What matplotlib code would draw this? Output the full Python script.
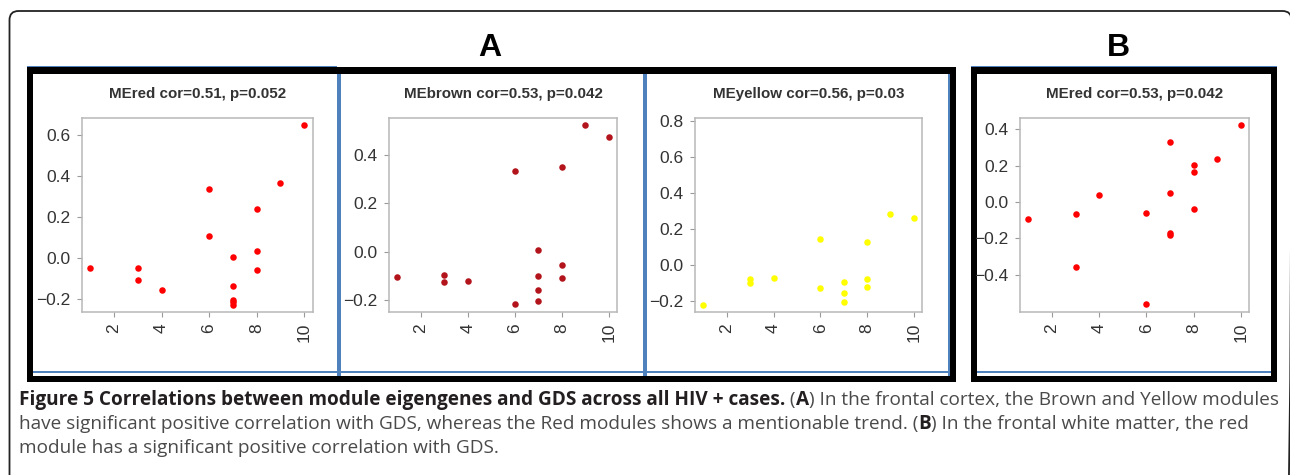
import matplotlib
matplotlib.use("Agg")
import matplotlib.pyplot as plt
from matplotlib.patches import Rectangle, FancyBboxPatch

W, H = 1290, 475

# GDS score (x) and module eigengene value (y) per panel
red_a_gds = [1, 3, 3, 4, 6, 6, 7, 7, 7, 7, 7, 8, 8, 8, 9, 10]
red_a_me = [-0.050, -0.047, -0.109, -0.154, 0.338, 0.107, 0.006, -0.136,
            -0.204, -0.216, -0.227, 0.240, 0.032, -0.060, 0.368, 0.649]

brown_gds = [1, 3, 3, 4, 6, 6, 7, 7, 7, 7, 8, 8, 8, 9, 10]
brown_me = [-0.107, -0.096, -0.124, -0.121, 0.335, -0.219, 0.007, -0.101,
            -0.157, -0.204, 0.349, -0.057, -0.108, 0.525, 0.475]

yellow_gds = [1, 3, 3, 4, 6, 6, 7, 7, 7, 8, 8, 8, 9, 10]
yellow_me = [-0.219, -0.076, -0.102, -0.070, 0.143, -0.130, -0.093, -0.157,
             -0.207, 0.130, -0.076, -0.119, 0.285, 0.259]

red_b_gds = [1, 3, 3, 4, 6, 6, 7, 7, 7, 7, 8, 8, 8, 9, 10]
red_b_me = [-0.094, -0.064, -0.360, 0.039, -0.059, -0.565, 0.329, 0.050,
            -0.171, -0.184, 0.202, 0.166, -0.040, 0.237, 0.425]

titles = ["MEred cor=0.51, p=0.052", "MEbrown cor=0.53, p=0.042",
          "MEyellow cor=0.56, p=0.03", "MEred cor=0.53, p=0.042"]
x_ticks = [2, 4, 6, 8, 10]

caption_lines = [
    [("Figure 5 Correlations between module eigengenes and GDS across all HIV + cases.", True),
     (" (", False), ("A", True),
     (") In the frontal cortex, the Brown and Yellow modules", False)],
    [("have significant positive correlation with GDS, whereas the Red modules shows a mentionable trend. (", False),
     ("B", True), (") In the frontal white matter, the red", False)],
    [("module has a significant positive correlation with GDS.", False)],
]

# panel boxes in pixels (left, top, right, bottom), colour, y limits, y ticks
panels = [
    (red_a_gds, red_a_me, (81.7, 117.7, 312.7, 311.7), "#ff0000", (-0.262, 0.684), [-0.2, 0.0, 0.2, 0.4, 0.6]),
    (brown_gds, brown_me, (389, 117.7, 617.3, 311.7), "#b3141c", (-0.249, 0.555), [-0.2, 0.0, 0.2, 0.4]),
    (yellow_gds, yellow_me, (695, 117.7, 922.3, 311.7), "#ffff00", (-0.259, 0.819), [-0.2, 0.0, 0.2, 0.4, 0.6, 0.8]),
    (red_b_gds, red_b_me, (1020, 117.7, 1249.3, 311.7), "#ff0000", (-0.605, 0.465), [-0.4, -0.2, 0.0, 0.2, 0.4]),
]

fig = plt.figure(figsize=(12.9, 4.75), dpi=100)
fig.patch.set_facecolor("white")

# background axes in pixel units for frames, letters and caption
bg = fig.add_axes([0, 0, 1, 1], zorder=-1)
bg.set_xlim(0, W)
bg.set_ylim(H, 0)
bg.axis("off")

outer = FancyBboxPatch((9.5, 11), 1282, 600, boxstyle="round,pad=0,rounding_size=9",
                       fill=False, ec="#222222", lw=1.3)
bg.add_patch(outer)


def frame(x0, y0, x1, y1, t):
    for r in [(x0, y0, x1 - x0, t), (x0, y1 - t, x1 - x0, t),
              (x0, y0, t, y1 - y0), (x1 - t, y0, t, y1 - y0)]:
        bg.add_patch(Rectangle(r[:2], r[2], r[3], fc="black", ec="none"))


blue = "#4f81bd"
frame(26.7, 67, 956, 382, 6.5)
frame(970.7, 67, 1277.3, 382, 6.5)
bg.add_patch(Rectangle((33, 370.5), 916, 2, fc=blue, ec="none"))
bg.add_patch(Rectangle((337, 73.5), 4, 302, fc=blue, ec="none"))
bg.add_patch(Rectangle((643, 73.5), 4, 302, fc=blue, ec="none"))
bg.add_patch(Rectangle((947.5, 73.5), 2, 302, fc=blue, ec="none"))
bg.add_patch(Rectangle((977, 370.5), 294, 2, fc=blue, ec="none"))
bg.add_patch(Rectangle((26.7, 66), 310, 1.2, fc=blue, ec="none"))
bg.add_patch(Rectangle((970.7, 66), 306, 1.2, fc=blue, ec="none"))

bg.text(490, 56, "A", fontsize=23, fontweight="bold", family="Liberation Sans",
        ha="center", va="baseline", color="black")
bg.text(1118, 56, "B", fontsize=23, fontweight="bold", family="Liberation Sans",
        ha="center", va="baseline", color="black")

for (gx, me, box, col, ylim, yt), title in zip(panels, titles):
    x0, y0, x1, y1 = box
    ax = fig.add_axes([x0 / W, 1 - y1 / H, (x1 - x0) / W, (y1 - y0) / H])
    ax.scatter(gx, me, s=22, c=col, linewidths=0, zorder=3)
    ax.set_xlim(0.64, 10.36)
    ax.set_ylim(*ylim)
    ax.set_xticks(x_ticks)
    ax.set_yticks(yt)
    ax.set_yticklabels([f"{v:.1f}".replace("-", "\u2212") for v in yt])
    for s in ax.spines.values():
        s.set_color("#b8b8b8")
        s.set_linewidth(1.1)
    ax.tick_params(direction="out", length=3.6, width=0.8, color="#9a9a9a",
                   labelsize=12.5, labelcolor="#333333", pad=4.5)
    ax.tick_params(axis="x", labelrotation=90)
    for lab in ax.get_xticklabels() + ax.get_yticklabels():
        lab.set_family("Liberation Sans")
    bg.text((x0 + x1) / 2, 94.3, title, fontsize=10.9, fontweight="bold",
            family="Liberation Sans", color="#333333", ha="center", va="center")

# caption, fitted to the reference line width
renderer = fig.canvas.get_renderer()


def draw_runs(runs, x, y, size):
    made = []
    for text, bold in runs:
        t = bg.text(x, y, text, fontsize=size, fontweight="bold" if bold else "normal",
                    family="Open Sans", color="#231f20" if bold else "#4a4a4a",
                    ha="left", va="baseline")
        bb = t.get_window_extent(renderer=renderer)
        x += bb.width
        made.append(t)
    return made, x


probe, xend = draw_runs(caption_lines[0], 19, 405, 10)
size = 10 * (1279 - 19) / (xend - 19)
for t in probe:
    t.remove()

for line, yb in zip(caption_lines, [405, 429, 453]):
    draw_runs(line, 19, yb, size)

fig.savefig("out.png", dpi=100, facecolor="white")
